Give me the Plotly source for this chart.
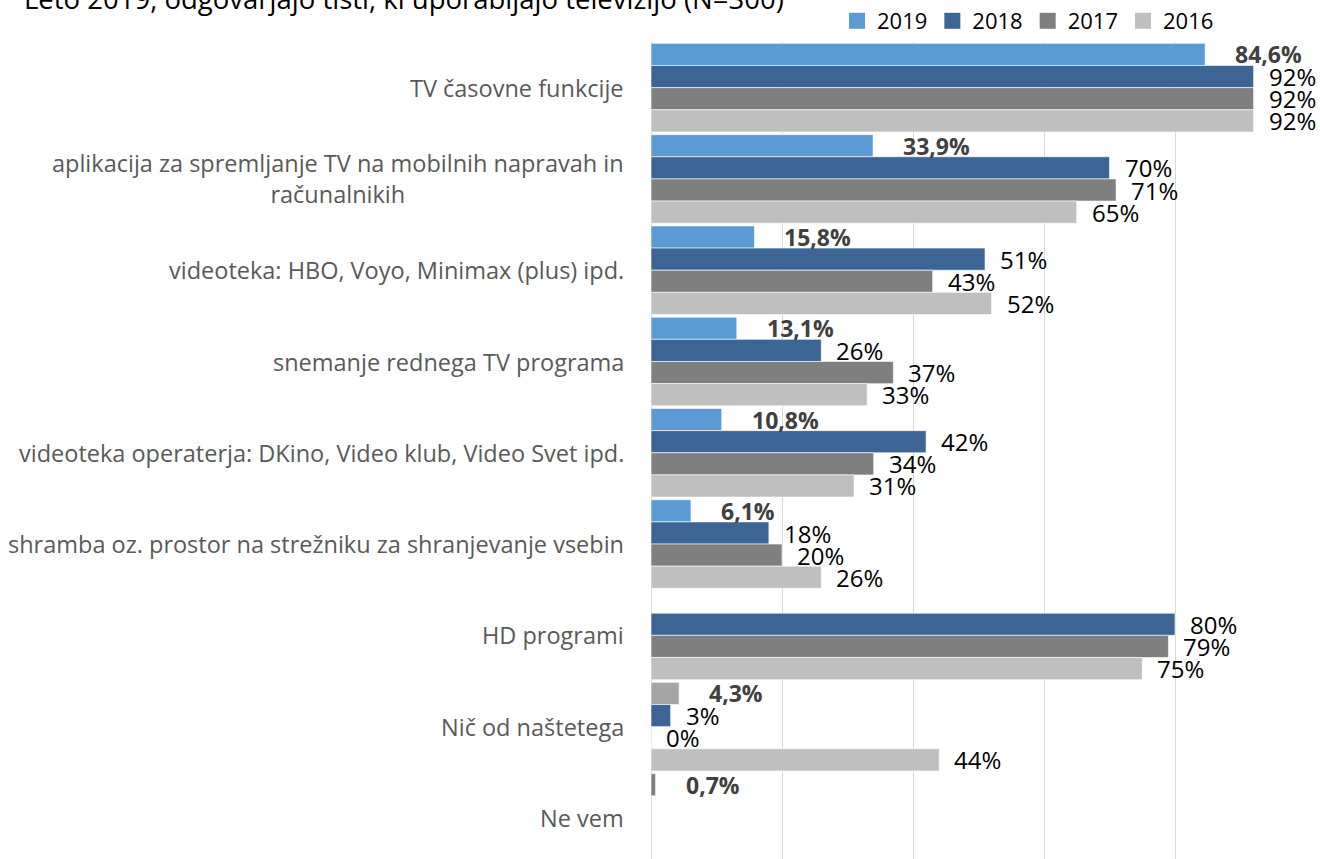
import plotly.graph_objects as go

categories = [
    "TV časovne funkcije",
    "aplikacija za spremljanje TV na mobilnih napravah in<br>računalnikih",
    "videoteka: HBO, Voyo, Minimax (plus) ipd.",
    "snemanje rednega TV programa",
    "videoteka operaterja: DKino, Video klub, Video Svet ipd.",
    "shramba oz. prostor na strežniku za shranjevanje vsebin",
    "HD programi",
    "Nič od naštetega",
    "Ne vem",
]
series_names = ["2019", "2018", "2017", "2016"]
v2019 = [84.6, 33.9, 15.8, 13.1, 10.8, 6.1, None, 4.3, 0.7]
v2018 = [92, 70, 51, 26, 42, 18, 80, 3, None]
v2017 = [92, 71, 43, 37, 34, 20, 79, 0, None]
v2016 = [92, 65, 52, 33, 31, 26, 75, 44, None]
title_text = "Leto 2019, odgovarjajo tisti, ki uporabljajo televizijo (N=300)"

series_values = [v2019, v2018, v2017, v2016]
series_colors = ["#5B9BD5", "#3C6495", "#7F7F7F", "#BFBFBF"]
# per-point colour overrides for the 2019 series (last two rows)
colors_2019 = ["#5B9BD5"] * 7 + ["#A5A5A5", "#7F7F7F"]

FONT = "Open Sans"
bargap = 0.03

fig = go.Figure()
for k, (name, vals) in enumerate(zip(series_names, series_values)):
    color = colors_2019 if k == 0 else series_colors[k]
    fig.add_trace(go.Bar(
        name=name, y=categories, x=vals, orientation="h",
        marker=dict(color=color, line=dict(color="rgba(255,255,255,0.6)", width=1)),
        hoverinfo="x+y", showlegend=False,
    ))
# legend entries with larger square swatches
for name, col in zip(series_names, series_colors):
    fig.add_trace(go.Scatter(
        x=[None], y=[None], mode="markers", name=name,
        marker=dict(symbol="square", size=16, color=col), showlegend=True,
    ))

annotations = []
w = (1 - bargap) / 4
for k, vals in enumerate(series_values):
    off = -(1 - bargap) / 2 + w * (k + 0.5)
    for i, v in enumerate(vals):
        if v is None:
            continue
        if k == 0:
            txt = f"{v:.1f}".replace(".", ",") + "%"
            font = dict(family=FONT, size=23, color="#404040", weight="bold")
            shift = 28
        else:
            txt = f"{v:.0f}%"
            font = dict(family=FONT, size=24, color="#000000")
            shift = 13
        annotations.append(dict(
            x=v, y=i + off, xref="x", yref="y", text=txt, showarrow=False,
            xanchor="left", yanchor="middle", xshift=shift, font=font,
        ))

for i, c in enumerate(categories):
    annotations.append(dict(
        x=0, y=i, xref="paper", yref="y", text=c, showarrow=False,
        xanchor="right", yanchor="middle", align="center", xshift=-25,
        font=dict(family=FONT, size=23.5, color="#595959"),
    ))

annotations.append(dict(
    x=0, y=1, xref="paper", yref="paper", text=title_text, showarrow=False,
    xanchor="left", yanchor="middle", xshift=-629, yshift=44,
    font=dict(family=FONT, size=27.5, color="#000000"),
))

fig.update_layout(
    width=1320, height=859,
    margin=dict(l=651, r=14, t=41, b=0),
    paper_bgcolor="white", plot_bgcolor="white",
    barmode="group", bargap=bargap, bargroupgap=0,
    showlegend=True,
    legend=dict(orientation="h", x=0.284, xanchor="left", y=1.0, yanchor="bottom",
                font=dict(family=FONT, size=22, color="#000000"),
                traceorder="normal", bgcolor="rgba(0,0,0,0)"),
    xaxis=dict(range=[0, 100], dtick=20, showgrid=True, gridcolor="#D9D9D9", gridwidth=1,
               zeroline=True, zerolinecolor="#D9D9D9", zerolinewidth=1,
               showticklabels=False, showline=False, fixedrange=True),
    yaxis=dict(type="category", range=[8.45, -0.5], showticklabels=False,
               showgrid=False, zeroline=False, showline=False),
    annotations=annotations,
    font=dict(family=FONT),
)

fig.write_html("out.html", config={"displayModeBar": False},
               post_script="document.body.style.margin='0px';")
